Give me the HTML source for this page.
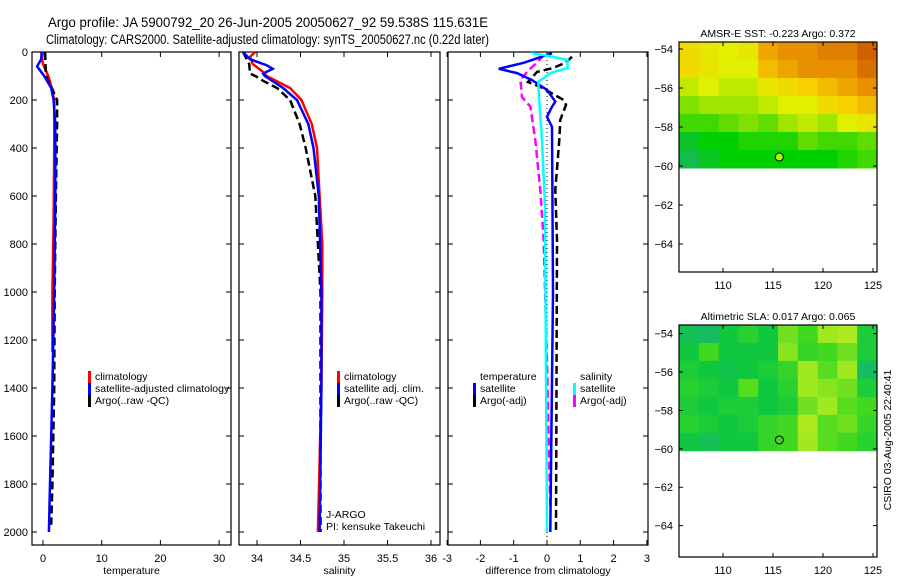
<!DOCTYPE html>
<html><head><meta charset="utf-8"><style>
html,body{margin:0;padding:0;background:#fff;}
svg{display:block;font-family:"Liberation Sans",sans-serif;}
</style></head><body>
<svg id="fig" width="900" height="580" viewBox="0 0 900 580">
<rect width="900" height="580" fill="#fff"/>
<text x="48" y="27" font-size="13.5" textLength="440" lengthAdjust="spacingAndGlyphs">Argo profile: JA 5900792_20 26-Jun-2005 20050627_92 59.538S 115.631E</text>
<text x="46" y="44" font-size="13.5" textLength="443" lengthAdjust="spacingAndGlyphs">Climatology: CARS2000. Satellite-adjusted climatology: synTS_20050627.nc (0.22d later)</text>
<g id="plots"></g>
</svg>
<script>
// ---------- data ----------
const depthTicks=[0,200,400,600,800,1000,1200,1400,1600,1800,2000];
const tempTicks=[0,10,20,30];
const salTicks=[34,34.5,35,35.5,36];
const diffTicks=[-3,-2,-1,0,1,2,3];
const lonTicks=[110,115,120,125];
const latTicks=[-54,-56,-58,-60,-62,-64];

const tempClimDepth=[0,50,100,150,200,400,700,1000,1250];
const tempClim=[-0.3,0.0,0.9,1.5,1.9,1.9,1.8,1.6,1.6];
const tempSatDepth=[0,30,60,100,150,200,300,600,1000,1400,1800,2000];
const tempSat=[-0.2,-0.3,-1.0,0.2,1.4,1.8,2.1,2.1,1.9,1.6,1.2,1.0];
const tempArgoDepth=[0,100,150,200,300,600,1000,1400,1800,1970];
const tempArgo=[0.35,0.5,1.5,2.4,2.4,2.2,2.0,1.9,1.6,1.4];

const salClimDepth=[0,20,50,80,100,150,200,300,400,600,800,1000,1400,2000];
const salClim=[33.98,33.92,33.95,34.06,34.11,34.38,34.51,34.63,34.69,34.72,34.75,34.75,34.74,34.70];
const salSatDepth=[0,30,55,70,90,100,150,200,300,400,600,1000,1400,2000];
const salSat=[33.84,33.92,34.11,34.18,34.07,34.09,34.30,34.46,34.59,34.65,34.71,34.74,34.74,34.72];
const salArgoDepth=[0,50,90,100,120,150,200,300,400,600,800,1000,2000];
const salArgo=[33.84,33.91,33.92,33.98,34.07,34.23,34.38,34.49,34.56,34.67,34.70,34.73,34.73];

const dTempSatDepth=[5,45,70,88,117,158,207,228,270,312,1000,2000];
const dTempSat=[0.15,-0.7,-1.45,-0.9,-0.45,0.0,0.25,0.15,0.0,0.15,0.18,0.1];
const dTempArgoDepth=[20,45,67,83,125,145,200,220,283,367,575,783,2000];
const dTempArgo=[0.75,0.55,0.17,-0.3,-0.57,-0.2,0.5,0.57,0.4,0.37,0.25,0.3,0.27];
const dSalSatDepth=[5,15,33,67,88,125,188,367,645,2000];
const dSalSat=[-0.45,0.0,0.62,0.62,0.1,-0.26,-0.24,-0.15,-0.06,0.0];
const dSalArgoDepth=[12,45,75,117,188,228,367,575,783,1300,1900];
const dSalArgo=[-0.1,-0.3,-0.55,-0.8,-0.75,-0.5,-0.35,-0.2,-0.1,0.0,0.1];

const sstGrid=[
[0.6,0.55,0.5,0.55,0.75,0.8,0.8,0.85,0.85,0.95],
[0.6,0.55,0.5,0.5,0.7,0.75,0.8,0.8,0.8,0.9],
[0.45,0.5,0.45,0.45,0.55,0.6,0.65,0.7,0.75,0.8],
[0.35,0.4,0.4,0.4,0.45,0.5,0.5,0.6,0.65,0.7],
[0.25,0.25,0.3,0.35,0.3,0.4,0.45,0.4,0.5,0.55],
[0.1,0.15,0.15,0.2,0.2,0.2,0.3,0.25,0.25,0.3],
[0.05,0.1,0.15,0.15,0.15,0.15,0.15,0.15,0.2,0.25]];
const slaGrid=[
[0.2,0.15,0.3,0.4,0.3,0.6,0.5,0.7,0.75,0.35],
[0.3,0.5,0.3,0.3,0.3,0.65,0.45,0.5,0.6,0.35],
[0.35,0.3,0.25,0.3,0.35,0.45,0.7,0.55,0.7,0.15],
[0.4,0.35,0.3,0.55,0.3,0.4,0.7,0.65,0.6,0.35],
[0.35,0.3,0.35,0.35,0.3,0.35,0.6,0.7,0.55,0.5],
[0.4,0.35,0.3,0.35,0.45,0.5,0.75,0.55,0.6,0.45],
[0.3,0.2,0.3,0.3,0.45,0.5,0.7,0.55,0.5,0.4]];
const floatLon=115.631, floatLat=-59.538;

// ---------- helpers ----------
const NS="http://www.w3.org/2000/svg";
const root=document.getElementById('plots');
function mk(tag,attrs,parent){const e=document.createElementNS(NS,tag);for(const k in attrs)e.setAttribute(k,attrs[k]);(parent||root).appendChild(e);return e;}
function txt(x,y,s,size,anchor,parent){const t=mk('text',{x:x,y:y,'font-size':size||11,'text-anchor':anchor||'start'},parent);t.textContent=s;return t;}
const Y=d=>52+d*0.24;

function panel(name,x0,x1,xs,ticks,xlabel,showDepth){
  const g=mk('g',{});
  
  
  mk('rect',{x:x0,y:52,width:x1-x0,height:493,fill:'none',stroke:'#000','stroke-width':1.2},g);
  ticks.forEach(v=>{const x=xs(v);
    mk('line',{x1:x,x2:x,y1:545,y2:540,stroke:'#000'},g);
    mk('line',{x1:x,x2:x,y1:52,y2:57,stroke:'#000'},g);
    const t=txt(x,562,String(v),11,'middle',g);
    
    
  });
  depthTicks.forEach(d=>{const y=Y(d);
    mk('line',{x1:x0,x2:x0+5,y1:y,y2:y,stroke:'#000'},g);
    mk('line',{x1:x1,x2:x1-5,y1:y,y2:y,stroke:'#000'},g);
    if(showDepth){const t=txt(28,y+4,String(d),11,'end',g);
      
      }
  });
  const xl=txt((x0+x1)/2,574,xlabel,10.5,'middle',g);
  
  
  return g;
}
function line(g,xs,vals,depths,color,dash,w,name){
  const pts=vals.map((v,i)=>xs(v).toFixed(1)+','+Y(depths[i]).toFixed(1)).join(' ');
  const p=mk('polyline',{points:pts,fill:'none',stroke:color,'stroke-width':w||2.5,'stroke-dasharray':dash||'none'},g);
  
  
}
function legend(g,x,y,items){
  items.forEach((it,i)=>{
    if(it.c) mk('rect',{x:x,y:y+i*12-9,width:3,height:12,fill:it.c},g);
    const t=txt(x+7,y+i*12,it.t,10.5,'start',g);
    
    
  });
}

// panel 1 temperature
const xsT=v=>43+v*5.87;
const g1=panel('temperature-panel',32,231,xsT,tempTicks,'temperature',true);
line(g1,xsT,tempClim,tempClimDepth,'#f00',null,2.5,'temp-climatology-line');
line(g1,xsT,tempArgo,tempArgoDepth,'#000','8,4',2.5,'temp-argo-line');
line(g1,xsT,tempSat,tempSatDepth,'#00f',null,2.5,'temp-satellite-line');
legend(g1,88,380,[{c:'#f00',t:'climatology'},{c:'#00f',t:'satellite-adjusted climatology'},{c:'#000',t:'Argo(..raw -QC)'}]);

// panel 2 salinity
const xsS=v=>257+(v-34)*87;
const g2=panel('salinity-panel',239,440,xsS,salTicks,'salinity',false);
line(g2,xsS,salClim,salClimDepth,'#f00',null,2.5,'sal-climatology-line');
line(g2,xsS,salArgo,salArgoDepth,'#000','8,4',2.5,'sal-argo-line');
line(g2,xsS,salSat,salSatDepth,'#00f',null,2.5,'sal-satellite-line');
legend(g2,337,380,[{c:'#f00',t:'climatology'},{c:'#00f',t:'satellite adj. clim.'},{c:'#000',t:'Argo(..raw -QC)'}]);
txt(326,518,'J-ARGO',10.5,'start',g2);
txt(326,530,'PI: kensuke Takeuchi',10.5,'start',g2);

// panel 3 differences
const xsD=v=>547+v*33.3;
const g3=panel('difference-panel',448,648,xsD,diffTicks,'difference from climatology',false);
mk('line',{x1:xsD(0),x2:xsD(0),y1:52,y2:545,stroke:'#000','stroke-dasharray':'1,3'},g3);
line(g3,xsD,dTempArgo,dTempArgoDepth,'#000','8,4',2.5,'diff-temp-argo-line');
line(g3,xsD,dSalArgo,dSalArgoDepth,'#f0f','8,4',2.5,'diff-sal-argo-line');
line(g3,xsD,dTempSat,dTempSatDepth,'#00f',null,2.5,'diff-temp-satellite-line');
line(g3,xsD,dSalSat,dSalSatDepth,'#0ff',null,2.5,'diff-sal-satellite-line');
legend(g3,473,380,[{t:'temperature'},{c:'#00f',t:'satellite'},{c:'#000',t:'Argo(-adj)'}]);
legend(g3,573,380,[{t:'salinity'},{c:'#0ff',t:'satellite'},{c:'#f0f',t:'Argo(-adj)'}]);

// maps
function lerpCol(stops,v){v=Math.max(0,Math.min(1,v));
  for(let i=1;i<stops.length;i++){if(v<=stops[i][0]){const a=stops[i-1],b=stops[i],t=(v-a[0])/(b[0]-a[0]);
    return 'rgb('+[1,2,3].map(k=>Math.round(a[k]+(b[k]-a[k])*t)).join(',')+')';}}
  const l=stops[stops.length-1];return 'rgb('+l[1]+','+l[2]+','+l[3]+')';}
const sstStops=[[0,32,176,112],[0.15,0,208,0],[0.35,128,224,0],[0.5,224,240,0],[0.65,248,208,0],[0.8,232,144,0],[1,200,80,0]];
const slaStops=[[0,32,176,128],[0.3,16,200,64],[0.5,64,216,32],[0.7,160,232,32],[0.9,216,240,32],[1,230,244,40]];
function map(name,top,bottom,latTop,latScale,grid,stops,title,dotFill){
  const g=mk('g',{});
  
  
  const X=lon=>723+(lon-110)*10;
  const YM=lat=>top+(latTop-lat)*latScale;
  const lon0=105.6,lon1=125.4,lat0=latTop,lat1=-60.1;
  const rows=grid.length,cols=grid[0].length;
  const cw=(X(lon1)-X(lon0))/cols, ch=(YM(lat1)-YM(lat0))/rows;
  grid.forEach((row,r)=>row.forEach((v,c)=>{
    const cell=mk('rect',{x:X(lon0)+c*cw,y:YM(lat0)+r*ch,width:cw+0.5,height:ch+0.5,fill:lerpCol(stops,v)},g);
    
    
  }));
  mk('rect',{x:679,y:top,width:198,height:bottom-top,fill:'none',stroke:'#000','stroke-width':1.2},g);
  lonTicks.forEach(l=>{const x=X(l);
    mk('line',{x1:x,x2:x,y1:bottom,y2:bottom-4,stroke:'#000'},g);
    mk('line',{x1:x,x2:x,y1:top,y2:top+4,stroke:'#000'},g);
    txt(x,bottom+17,String(l),11,'middle',g);});
  latTicks.forEach(l=>{const y=YM(l);
    mk('line',{x1:679,x2:683,y1:y,y2:y,stroke:'#000'},g);
    mk('line',{x1:877,x2:873,y1:y,y2:y,stroke:'#000'},g);
    txt(673,y+4,String(l).replace('-','\u2212'),11,'end',g);});
  const d=mk('circle',{cx:X(floatLon),cy:YM(floatLat),r:4,fill:dotFill,stroke:'#000','stroke-width':1},g);
  
  
  const t=txt(778,top-5,title,10.5,'middle',g);
  
  
}
map('sst-map',42,272,-53.64,19.5,sstGrid,sstStops,'AMSR-E SST: -0.223 Argo: 0.372','#b0ff00');
map('sla-map',325,557,-53.55,19.2,slaGrid,slaStops,'Altimetric SLA: 0.017 Argo: 0.065','none');
const cs=txt(0,0,'CSIRO 03-Aug-2005 22:40:41',10.5,'middle');
cs.setAttribute('transform','translate(891,440) rotate(-90)');


</script>
</body></html>
